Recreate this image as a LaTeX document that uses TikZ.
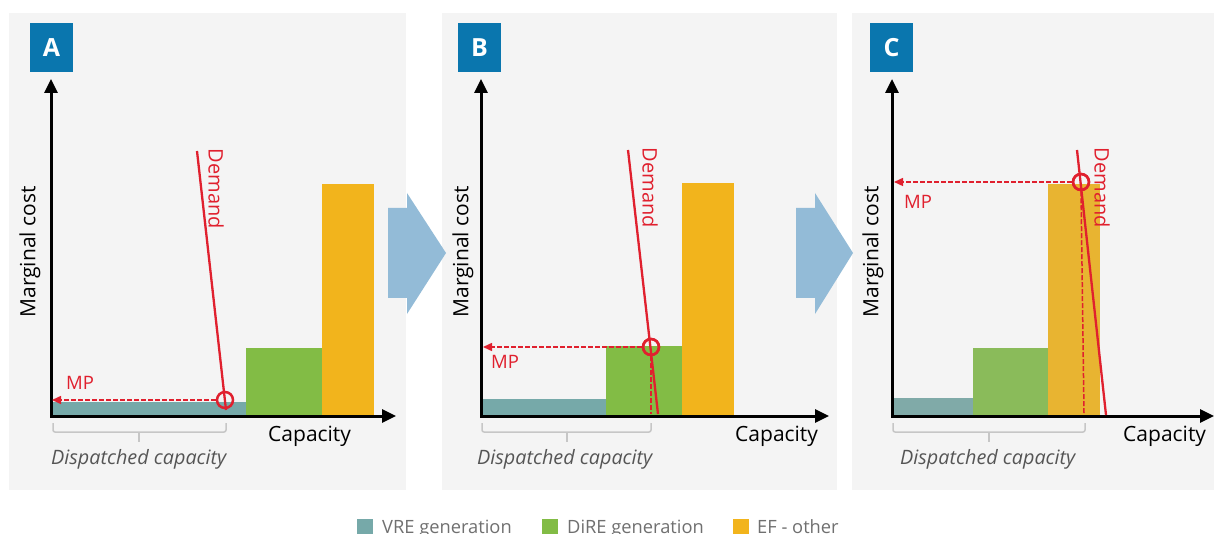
\documentclass[tikz,border=0pt]{standalone}
\usepackage{fontspec}
\setmainfont{Open Sans}
\usetikzlibrary{arrows.meta}
\definecolor{panelbg}{HTML}{F4F4F4}
\definecolor{lblue}{HTML}{0A76AE}
\definecolor{vre}{HTML}{76A9A9}
\definecolor{dire}{HTML}{82BC45}
\definecolor{ef}{HTML}{F2B41C}
\definecolor{vrec}{HTML}{80AAA8}
\definecolor{direc}{HTML}{8ABB5A}
\definecolor{efc}{HTML}{E8B431}
\definecolor{bigarrow}{HTML}{93BBD7}
\definecolor{mpred}{HTML}{E0202E}
\definecolor{bracegray}{HTML}{C6C6C6}
\definecolor{disptext}{HTML}{555555}
\definecolor{legtext}{HTML}{707070}
\tikzset{
  lblbox/.style={fill=lblue, minimum width=43pt, minimum height=49pt, inner sep=0pt,
    text=white, font=\fontsize{25}{30}\selectfont\bfseries},
  axis/.style={line width=3pt, line join=miter,
    {Triangle[length=14pt,width=13pt]}-{Triangle[length=14pt,width=13pt]}},
  demand/.style={draw=mpred, line width=2.3pt},
  eqcirc/.style={circle, draw=mpred, line width=2.5pt, minimum size=16pt, inner sep=0pt},
  mparrow/.style={draw=mpred, line width=1.5pt, dash pattern=on 5pt off 2pt,
    -{Triangle[length=9pt,width=8pt]}},
  vdash/.style={draw=mpred, line width=1.5pt, dash pattern=on 5pt off 2pt},
  mptext/.style={text=mpred, font=\fontsize{18.5}{22}\selectfont, inner sep=0pt},
  demtext/.style={text=mpred, font=\fontsize{20}{24}\selectfont, rotate=-90, inner sep=0pt},
  mctext/.style={font=\fontsize{21}{25}\selectfont, rotate=90, inner sep=0pt},
  captext/.style={font=\fontsize{21}{25}\selectfont, anchor=base west, inner sep=0pt},
  disptxt/.style={text=disptext, font=\fontsize{19.8}{23}\selectfont\itshape, anchor=base west, inner sep=0pt},
  bracestyle/.style={draw=bracegray, line width=1.5pt},
  legsq/.style={minimum width=16pt, minimum height=16pt, inner sep=0pt, anchor=north west},
  legtxt/.style={text=legtext, font=\fontsize{18.3}{22}\selectfont, anchor=base west, inner sep=0pt},
  bigarr/.style={fill=bigarrow}
}
\begin{document}
\begin{tikzpicture}[x=1pt,y=-1pt]
\useasboundingbox (0,0) rectangle (1214,534);
\fill[white] (0,0) rectangle (1214,534);

% ---------- Panel A ----------
\fill[panelbg] (9,13) rectangle (406,490);
\node[lblbox] (la) at (51.5,47.5) {A};
\fill[vre] (51,402) rectangle (246,416);
\fill[dire] (246,348) rectangle (322,416);
\fill[ef] (322,184) rectangle (374,416);
\coordinate (oA) at (51,416);
\coordinate (yA) at (51,79);
\coordinate (xA) at (396,416);
\draw[axis] (yA) -- (oA) -- (xA);
\coordinate (dAt) at (197,151);
\coordinate (dAb) at (226,410);
\draw[demand] (dAt) -- (dAb);
\node[eqcirc] (eA) at (225,400) {};
\coordinate (mA) at (52,400);
\draw[mparrow] (eA.west) -- (mA);
\node[mptext] (mpA) at (80,383) {MP};
\node[demtext] (demA) at (216,189) {Demand};
\node[mctext] (mcA) at (30,252) {Marginal cost};
\node[captext] (capA) at (268,441) {Capacity};
\draw[bracestyle, rounded corners=2pt] (53,423) -- (53,432) -- (226,432) -- (226,423);
\draw[bracestyle] (139,432) -- (139,442);
\node[disptxt] (dispA) at (51,464) {Dispatched capacity};

% ---------- Panel B ----------
\fill[panelbg] (442,13) rectangle (837,490);
\node[lblbox] (lb) at (479.5,47.5) {B};
\fill[vre] (481,399) rectangle (606,416);
\fill[dire] (606,346) rectangle (682,416);
\fill[ef] (682,183) rectangle (734,416);
\coordinate (oB) at (481,416);
\coordinate (yB) at (481,79);
\coordinate (xB) at (829,416);
\draw[axis] (yB) -- (oB) -- (xB);
\node[eqcirc] (eB) at (651,347) {};
\coordinate (vB) at (651,414);
\draw[vdash] (eB.south) -- (vB);
\coordinate (dBt) at (628,150);
\coordinate (dBb) at (658,414);
\draw[demand] (dBt) -- (dBb);
\node[eqcirc] at (eB) {};
\coordinate (mB) at (483,347);
\draw[mparrow] (eB.west) -- (mB);
\node[mptext] (mpB) at (505,362) {MP};
\node[demtext] (demB) at (650,188) {Demand};
\node[mctext] (mcB) at (463,252) {Marginal cost};
\node[captext] (capB) at (735,441) {Capacity};
\draw[bracestyle, rounded corners=2pt] (482,423) -- (482,432) -- (651,432) -- (651,423);
\draw[bracestyle] (567,432) -- (567,442);
\node[disptxt] (dispB) at (477,464) {Dispatched capacity};

% ---------- Panel C ----------
\fill[panelbg] (852,13) rectangle (1214,490);
\node[lblbox] (lc) at (891.5,47.5) {C};
\fill[vrec] (892,398) rectangle (973,416);
\fill[direc] (973,348) rectangle (1048,416);
\fill[efc] (1048,184) rectangle (1100,416);
\coordinate (oC) at (892,416);
\coordinate (yC) at (892,79);
\coordinate (xC) at (1214,416);
\draw[axis] (yC) -- (oC) -- (xC);
\node[eqcirc] (eC) at (1081,182) {};
\coordinate (vC) at (1084,414);
\draw[vdash] (eC.south) -- (vC);
\coordinate (dCt) at (1077,150);
\coordinate (dCb) at (1106,415);
\draw[demand] (dCt) -- (dCb);
\node[eqcirc] at (eC) {};
\coordinate (mC) at (894,182);
\draw[mparrow] (eC.west) -- (mC);
\node[mptext] (mpC) at (918,202) {MP};
\node[demtext] (demC) at (1102,188) {Demand};
\node[mctext] (mcC) at (873,252) {Marginal cost};
\node[captext] (capC) at (1123,441) {Capacity};
\draw[bracestyle, rounded corners=2pt] (893,423) -- (893,432) -- (1085,432) -- (1085,423);
\draw[bracestyle] (989,432) -- (989,442);
\node[disptxt] (dispC) at (900,464) {Dispatched capacity};

% ---------- Big arrows ----------
\fill[bigarr] (388,208) -- (407,208) -- (407,193) -- (446,253) -- (407,314) -- (407,298) -- (388,298) -- cycle;
\fill[bigarr] (796,208) -- (815,208) -- (815,193) -- (853,253) -- (815,314) -- (815,298) -- (796,298) -- cycle;

% ---------- Legend ----------
\node[legsq, fill=vre] (sq1) at (357,519) {};
\node[legtxt] (lt1) at (382,533) {VRE generation};
\node[legsq, fill=dire] (sq2) at (542,519) {};
\node[legtxt] (lt2) at (567,533) {DiRE generation};
\node[legsq, fill=ef] (sq3) at (733,519) {};
\node[legtxt] (lt3) at (757,533) {EF - other};
\end{tikzpicture}
\end{document}
